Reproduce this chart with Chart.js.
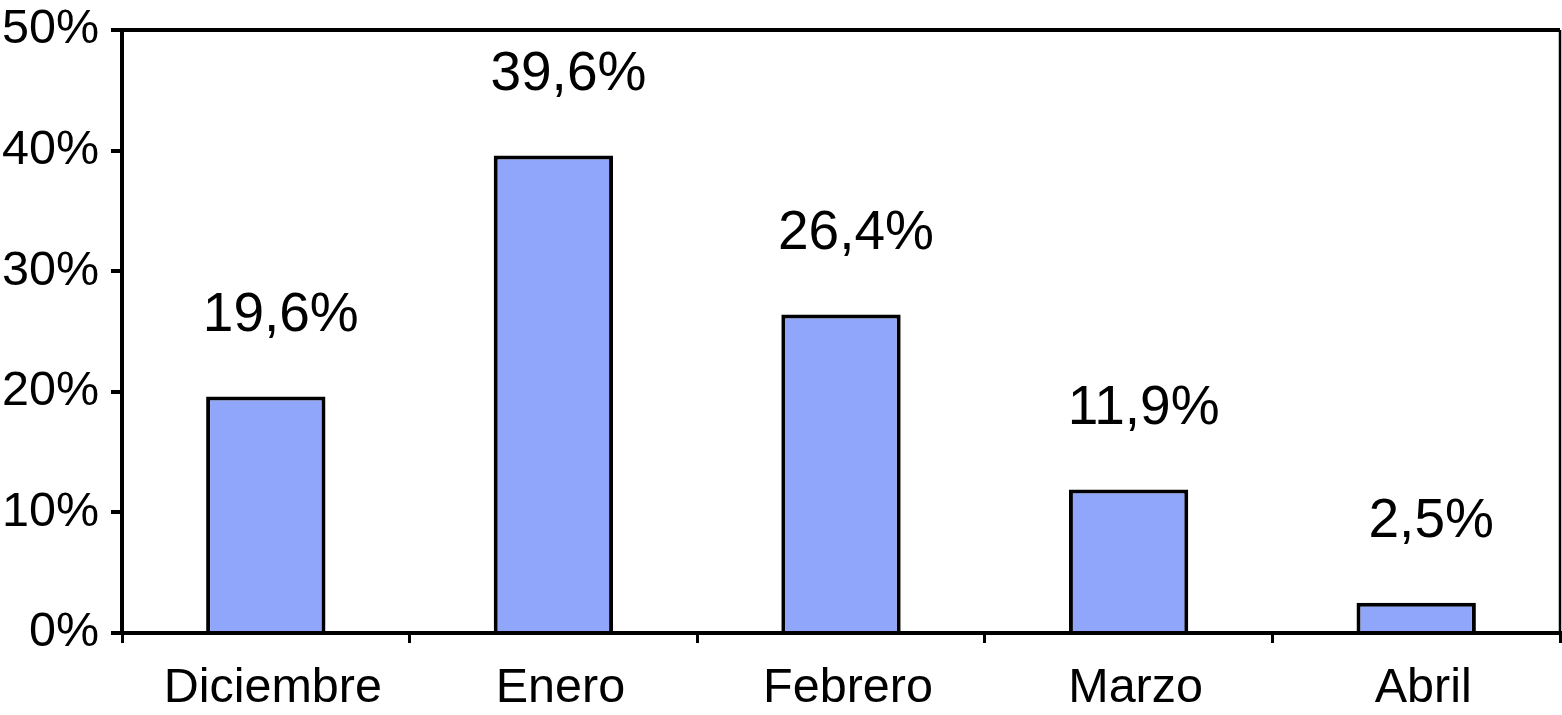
<!DOCTYPE html>
<html>
<head>
<meta charset="utf-8">
<script src="https://cdn.jsdelivr.net/npm/chart.js@4.4.1/dist/chart.umd.min.js"></script>
<style>
  body { margin: 0; background: #fff; }
  #wrap { width: 1562px; height: 715px; }
</style>
</head>
<body>
<div id="wrap"><canvas id="myChart"></canvas></div>
<script>
const months = ["Diciembre", "Enero", "Febrero", "Marzo", "Abril"];
const percents = [19.6, 39.6, 26.4, 11.9, 2.5];
const yTicks = [0, 10, 20, 30, 40, 50];

const FONT = "'Liberation Sans', Arial, sans-serif";

// frame on top and right of the plot
const framePlugin = {
  id: "frame",
  afterDraw(chart) {
    const a = chart.chartArea;
    const c = chart.ctx;
    c.save();
    c.strokeStyle = "#000";
    c.lineWidth = 4;
    c.beginPath();
    c.moveTo(a.left, a.top);
    c.lineTo(a.right, a.top);
    c.stroke();
    c.lineWidth = 2.5;
    c.beginPath();
    c.moveTo(a.right, a.top);
    c.lineTo(a.right, a.bottom);
    c.stroke();
    c.restore();
  }
};

// value labels above the bars
const labelPlugin = {
  id: "valueLabels",
  afterDatasetsDraw(chart) {
    const c = chart.ctx;
    const xs = chart.scales.x;
    const ys = chart.scales.y;
    c.save();
    c.fillStyle = "#000";
    c.font = "55px " + FONT;
    c.textAlign = "center";
    c.textBaseline = "middle";
    percents.forEach((v, i) => {
      const x = xs.getPixelForValue(i) + 15;
      const y = ys.getPixelForValue(v) - 81;
      c.fillText(v.toFixed(1).replace(".", ",") + "%", x, y);
    });
    c.restore();
  }
};

const ctx = document.getElementById("myChart");

new Chart(ctx, {
  type: "bar",
  data: {
    labels: months,
    datasets: [
      {
        data: percents,
        backgroundColor: "#8fa6fa",
        borderColor: "#000",
        borderWidth: 4,
        borderSkipped: "start",
        categoryPercentage: 1,
        barPercentage: 0.415,
      },
    ],
  },
  options: {
    responsive: true,
    maintainAspectRatio: false,
    animation: false,
    layout: { padding: { top: 30, right: 2, left: 0, bottom: 0 } },
    plugins: {
      legend: { display: false },
      tooltip: { enabled: false },
    },
    scales: {
      x: {
        grid: {
          offset: true,
          drawOnChartArea: false,
          drawTicks: true,
          tickLength: 10,
          color: "#000",
          lineWidth: 3,
        },
        border: { color: "#000", width: 4 },
        ticks: {
          color: "#000",
          font: { family: FONT, size: 48.5 },
          padding: 17,
          labelOffset: 7,
          maxRotation: 0,
        },
        afterFit(scale) {
          scale.height = 82;
          scale.paddingLeft = 0;
          scale.paddingRight = 0;
        },
      },
      y: {
        min: 0,
        max: 50,
        afterBuildTicks(scale) { scale.ticks = yTicks.map(v => ({ value: v })); },
        grid: {
          drawOnChartArea: false,
          drawTicks: true,
          tickLength: 11,
          color: "#000",
          lineWidth: 4,
        },
        border: { color: "#000", width: 4 },
        ticks: {
          color: "#000",
          font: { family: FONT, size: 48.5 },
          padding: 12,
          callback: (v) => v + "%",
        },
        afterFit(scale) {
          scale.width = 122;
          scale.paddingTop = 0;
          scale.paddingBottom = 0;
        },
      },
    },
  },
  plugins: [framePlugin, labelPlugin],
});
</script>
</body>
</html>
